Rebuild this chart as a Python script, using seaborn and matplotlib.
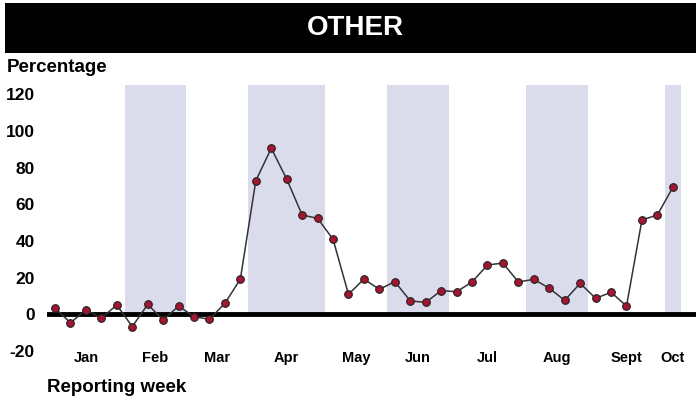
import numpy as np
import pandas as pd
import matplotlib
matplotlib.use("Agg")
import matplotlib.pyplot as plt
from matplotlib.patches import Rectangle
import seaborn as sns

# weekly percentages, reporting weeks 1..41
weeks = list(range(1, 42))
pct = [3.4, -4.5, 2.5, -2.0, 5.2, -6.6, 5.5, -3.0, 4.6, -1.2,
       -2.6, 6.1, 19.3, 72.9, 90.6, 73.8, 54.2, 52.4, 41.0, 11.0,
       19.3, 13.7, 17.9, 7.4, 6.6, 13.0, 12.4, 17.7, 27.0, 28.0,
       17.7, 19.2, 14.3, 7.7, 17.0, 8.8, 12.1, 4.6, 51.5, 54.2, 69.3]

# months and how many reporting weeks fall in each
months = ["Jan", "Feb", "Mar", "Apr", "May", "Jun", "Jul", "Aug", "Sept", "Oct"]
month_weeks = [5, 4, 4, 5, 4, 4, 5, 4, 5, 1]
shaded = [False, True, False, True, False, True, False, True, False, True]

yticks = [-20, 0, 20, 40, 60, 80, 100, 120]

df = pd.DataFrame({"week": weeks, "pct": pct})

month_end = np.cumsum(month_weeks) + 0.5
month_start = month_end - np.array(month_weeks)
month_mid = (month_start + month_end) / 2

sns.set_style("white")
plt.rcParams["font.family"] = ["Liberation Sans Narrow", "Liberation Sans", "DejaVu Sans"]
plt.rcParams["text.color"] = "black"
plt.rcParams["xtick.color"] = "black"
plt.rcParams["ytick.color"] = "black"

fig = plt.figure(figsize=(6.96, 4.04), dpi=100)
ax = fig.add_axes([47.3 / 696, (404 - 351.2) / 404, 1 - 47.3 / 696, (351.2 - 85.1) / 404])

ymin, ymax = -20, 125

# lavender bands for alternating months
for s, e, sh in zip(month_start, month_end, shaded):
    if sh:
        ax.bar(s, ymax, width=e - s, bottom=0, align="edge", color="#DADCEC",
               edgecolor="none", zorder=0)

ax.axhline(0, color="black", lw=3.5, zorder=1)

sns.lineplot(data=df, x="week", y="pct", ax=ax, color="#333333", lw=1.1,
             marker="o", markersize=5.5, markerfacecolor="#A31530",
             markeredgecolor="#222222", markeredgewidth=0.8, zorder=3)

ax.set_xlim(0.5, 42.5)
ax.set_ylim(ymin, ymax)
ax.set_yticks(yticks)
ax.set_yticklabels([str(t) for t in yticks], fontsize=12.5, fontweight="bold",
                   family=["Liberation Sans", "DejaVu Sans"])
ax.set_xticks(month_mid)
ax.set_xticklabels(months, fontsize=10.5, fontweight="bold")
ax.tick_params(axis="x", length=0, pad=0)
ax.tick_params(axis="y", length=0, pad=9)
ax.set_xlabel("")
ax.set_ylabel("")
for sp in ax.spines.values():
    sp.set_visible(False)

# title bar
fig.patches.append(Rectangle((5 / 696, (404 - 53) / 404), 1 - 5 / 696, 50 / 404,
                             transform=fig.transFigure, facecolor="black",
                             edgecolor="none", zorder=0))
fig.text(355 / 696, (404 - 28) / 404, "OTHER", color="white", fontsize=20,
         fontweight="bold", ha="center", va="center",
         family=["Liberation Sans", "DejaVu Sans"])

fig.text(7 / 696, (404 - 68) / 404, "Percentage", fontsize=13.5, fontweight="bold",
         ha="left", va="center", family=["Liberation Sans", "DejaVu Sans"])
fig.text(47 / 696, (404 - 387) / 404, "Reporting week", fontsize=13.5,
         fontweight="bold", ha="left", va="center",
         family=["Liberation Sans", "DejaVu Sans"])

fig.savefig("out.png", dpi=100)
